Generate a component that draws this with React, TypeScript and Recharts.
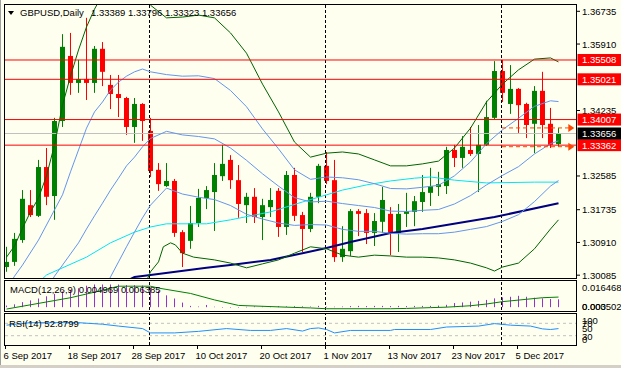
import { ComposedChart, Bar, Line, XAxis, YAxis, ReferenceLine, ReferenceDot } from 'recharts';

const FONT = "'Liberation Sans', Arial, sans-serif";

// daily bars from 6 Sep 2017 to 12 Dec 2017 (index 0..69)
const OPEN = [
  1.3029, 1.3042, 1.3097, 1.3185, 1.3158, 1.3281, 1.3208, 1.3397, 1.3561, 1.3493,
  1.3503, 1.3493, 1.3579, 1.3488, 1.3465, 1.3455, 1.3382, 1.344, 1.3372, 1.3274,
  1.3233, 1.3246, 1.3117, 1.3095, 1.314, 1.3203, 1.3218, 1.3258, 1.3299, 1.3248,
  1.3185, 1.3206, 1.3155, 1.318, 1.3221, 1.313, 1.3261, 1.316, 1.3125, 1.3206,
  1.3284, 1.3248, 1.3054, 1.3069, 1.317, 1.3165, 1.3115, 1.3143, 1.3163, 1.3115,
  1.3163, 1.3168, 1.3193, 1.3216, 1.3231, 1.3233, 1.3324, 1.3304, 1.3324, 1.3314,
  1.3337, 1.3405, 1.3523, 1.344, 1.3478, 1.344, 1.339, 1.3473, 1.339, 1.33389,
];
const HIGH = [
  1.308, 1.3115, 1.3223, 1.3223, 1.3299, 1.3329, 1.3405, 1.3616, 1.3619, 1.3551,
  1.3657, 1.3586, 1.3596, 1.3513, 1.3513, 1.3458, 1.3455, 1.3442, 1.3405, 1.3291,
  1.3291, 1.3251, 1.3122, 1.3183, 1.3226, 1.3233, 1.3291, 1.3337, 1.3311, 1.3286,
  1.3216, 1.3228, 1.3201, 1.3228, 1.3228, 1.3271, 1.3279, 1.3168, 1.3216, 1.3289,
  1.3319, 1.3299, 1.3132, 1.3175, 1.3175, 1.3175, 1.3165, 1.3231, 1.318, 1.3188,
  1.3216, 1.3208, 1.3261, 1.3279, 1.3269, 1.3332, 1.3337, 1.3359, 1.3382, 1.3387,
  1.3448, 1.3548, 1.3551, 1.3538, 1.348, 1.3443, 1.3485, 1.3521, 1.343, 1.33796,
];
const LOW = [
  1.3017, 1.3032, 1.309, 1.3155, 1.3155, 1.3185, 1.3148, 1.3382, 1.3463, 1.3468,
  1.345, 1.3468, 1.3485, 1.3427, 1.3407, 1.3362, 1.3342, 1.3347, 1.3256, 1.3221,
  1.3231, 1.3105, 1.3029, 1.3075, 1.313, 1.3175, 1.312, 1.3246, 1.3226, 1.3153,
  1.314, 1.314, 1.3097, 1.3155, 1.3105, 1.311, 1.3145, 1.3067, 1.3117, 1.319,
  1.3238, 1.3042, 1.3042, 1.3057, 1.3107, 1.3087, 1.3082, 1.3115, 1.3059, 1.3067,
  1.313, 1.3132, 1.3168, 1.3183, 1.3208, 1.3213, 1.3281, 1.3279, 1.3309, 1.3218,
  1.3334, 1.3402, 1.3445, 1.3415, 1.3367, 1.3354, 1.3316, 1.3354, 1.3329, 1.33323,
];
const CLOSE = [
  1.3042, 1.31, 1.3201, 1.316, 1.3281, 1.3206, 1.3397, 1.3584, 1.3493, 1.3503,
  1.3493, 1.3579, 1.3521, 1.3465, 1.3455, 1.3382, 1.344, 1.3397, 1.3271, 1.3238,
  1.3246, 1.3115, 1.3064, 1.314, 1.3203, 1.3223, 1.3261, 1.3289, 1.3248, 1.3188,
  1.3206, 1.3155, 1.3185, 1.3198, 1.313, 1.3261, 1.3158, 1.3125, 1.3206, 1.3284,
  1.3246, 1.3054, 1.3075, 1.317, 1.3163, 1.3115, 1.3145, 1.3198, 1.3115, 1.3163,
  1.317, 1.3195, 1.3218, 1.3233, 1.3238, 1.3324, 1.3304, 1.3332, 1.3314, 1.3337,
  1.3407, 1.3523, 1.3468, 1.3478, 1.3437, 1.3387, 1.3473, 1.3387, 1.3337, 1.33656,
];

// MACD(12,26,9) main values, one per bar
const MACD_MAIN = [
  0.001, 0.0018, 0.0032, 0.0043, 0.0055, 0.0069, 0.0084, 0.0099, 0.011, 0.012,
  0.0136, 0.0144, 0.0144, 0.0144, 0.0144, 0.014, 0.014, 0.0137, 0.0124, 0.0104,
  0.0075, 0.0055, 0.0029, 0.0008, 0.0004, 0.0014, 0.0003, -0.0002, -0.0003, 0.0001,
  0.0002, 0.0005, 0.0004, 0.0004, 0.0006, 0.0005, 0.0006, 0.0005, 0.0004, 0.0008,
  0.0003, 0.0003, 0.0004, 0.0007, 0.0008, 0.0007, 0.0008, 0.0008, 0.0007, 0.0008,
  0.0007, 0.0008, 0.0008, 0.0008, 0.001, 0.0015, 0.0026, 0.003, 0.0035, 0.004,
  0.0046, 0.0056, 0.0062, 0.0066, 0.0072, 0.0066, 0.006, 0.0056, 0.0052, 0.004969,
];

// indicator lines, read as [bar index, value]
const BB_UPPER = [
  [0, 1.3054], [1, 1.3082], [2, 1.3127], [3, 1.3168], [4, 1.3203], [5, 1.3259], [6, 1.3337],
  [7, 1.3437], [8, 1.351], [9, 1.3576], [10, 1.3634], [11, 1.3679], [12, 1.3715], [14, 1.3752],
  [16, 1.374], [17, 1.3712], [18, 1.3689], [20, 1.3657], [22, 1.3659], [24, 1.3664], [26, 1.3657],
  [28, 1.3619], [30, 1.3568], [32, 1.349], [34, 1.342], [36, 1.3344], [38, 1.3306], [40, 1.3316],
  [42, 1.3319], [44, 1.3314], [46, 1.3299], [48, 1.3284], [50, 1.3284], [52, 1.3289], [54, 1.3296],
  [56, 1.3329], [58, 1.3379], [60, 1.3445], [62, 1.349], [64, 1.3526], [66, 1.3553], [68, 1.3556],
  [69, 1.3546],
];
const BB_LOWER = [
  [15, 1.2921], [17, 1.2971], [18, 1.3017], [19, 1.3042], [19.6, 1.308], [20.5, 1.309], [21.1, 1.3085],
  [22, 1.3064], [23.4, 1.3054], [26, 1.3047], [28, 1.3039], [30, 1.3027], [32, 1.3037], [34, 1.3047],
  [36, 1.3064], [38, 1.308], [40, 1.3075], [42, 1.3059], [44, 1.3054], [46, 1.3059], [48, 1.3057],
  [50, 1.3054], [52, 1.3054], [54, 1.3052], [56, 1.3047], [58, 1.3039], [60, 1.3027], [61, 1.3019],
  [62, 1.3029], [64, 1.3039], [66, 1.3075], [68, 1.3125], [69, 1.3148],
];
const INNER_UPPER = [
  [0, 1.2971], [1, 1.3006], [2, 1.3034], [4, 1.3097], [6, 1.3173], [7, 1.3211], [8, 1.3269],
  [9, 1.3324], [10, 1.3379], [11, 1.342], [12, 1.3445], [13, 1.3475], [14, 1.3495], [15, 1.351],
  [16, 1.3521], [17, 1.3528], [18, 1.3521], [20, 1.3514], [22, 1.351], [24, 1.3511], [26, 1.3504],
  [28, 1.3474], [30, 1.3433], [32, 1.3377], [34, 1.3327], [36, 1.3274], [38, 1.325], [40, 1.3256],
  [42, 1.3254], [44, 1.3249], [46, 1.3239], [48, 1.3227], [50, 1.3226], [52, 1.323], [54, 1.3235],
  [56, 1.3259], [58, 1.3294], [60, 1.334], [62, 1.3375], [64, 1.3404], [66, 1.3434], [68, 1.3448],
  [69, 1.3446],
];
const MIDDLE = [
  [5, 1.2971], [6, 1.3006], [7, 1.3034], [8, 1.3062], [9, 1.309], [10, 1.3125], [11, 1.3158],
  [12, 1.319], [13, 1.3223], [14, 1.3253], [15, 1.3284], [16, 1.3306], [17, 1.3332], [18, 1.3353],
  [20, 1.3371], [22, 1.3362], [24, 1.3358], [26, 1.3352], [28, 1.3329], [30, 1.3298], [32, 1.3264],
  [34, 1.3233], [36, 1.3204], [38, 1.3193], [40, 1.3195], [42, 1.3189], [44, 1.3184], [46, 1.3179],
  [48, 1.317], [50, 1.3169], [52, 1.3172], [54, 1.3174], [56, 1.3188], [58, 1.3209], [60, 1.3236],
  [62, 1.326], [64, 1.3282], [66, 1.3314], [68, 1.334], [69, 1.3347],
];
const INNER_LOWER = [
  [12, 1.2966], [13, 1.3004], [14, 1.3042], [15, 1.308], [16, 1.3117], [17, 1.3153], [18, 1.3185],
  [20, 1.3228], [22, 1.3213], [24, 1.3205], [26, 1.3199], [28, 1.3184], [30, 1.3162], [32, 1.315],
  [34, 1.314], [36, 1.3134], [38, 1.3136], [40, 1.3135], [42, 1.3124], [44, 1.3119], [46, 1.3119],
  [48, 1.3114], [50, 1.3112], [52, 1.3113], [54, 1.3113], [56, 1.3117], [58, 1.3124], [60, 1.3131],
  [62, 1.3144], [64, 1.3161], [66, 1.3194], [68, 1.3233], [69, 1.3247],
];
const MA_AQUA = [
  [3, 1.2971], [5, 1.3009], [10, 1.3054], [13, 1.309], [16, 1.3117], [18, 1.313], [20, 1.3138],
  [25, 1.3138], [28, 1.3148], [33, 1.3168], [37, 1.3193], [40, 1.3211], [42, 1.3223], [45, 1.3236],
  [48, 1.3246], [51, 1.3253], [53, 1.3256], [56, 1.3248], [60, 1.3241], [66, 1.3243], [69, 1.3243],
];
const MA_NAVY = [
  [14, 1.2984], [16, 1.3004], [18, 1.3009], [25, 1.3027], [28, 1.3034], [33, 1.3047], [37, 1.3064],
  [40, 1.3077], [43, 1.3092], [48, 1.3115], [50, 1.312], [52, 1.3125], [61, 1.3155], [69, 1.319],
];
const MACD_SIGNAL = [
  [0, -0.0012], [3, 0.0015], [8, 0.006], [12, 0.0107], [14, 0.0133], [18, 0.0133], [19, 0.0121],
  [23, 0.0087], [26, 0.0046], [29, 0.0011], [35, 0], [38, -0.0005], [40, -0.001], [48, -0.001],
  [50, -0.0008], [53, -0.0003], [55, 0], [58, 0.0009], [60, 0.002], [62, 0.0035], [65, 0.005],
  [67, 0.006], [69, 0.0064],
];
const RSI = [
  [0, 64], [3, 72], [9, 72], [12, 67], [14, 61], [17, 53], [18, 39], [21, 39], [24, 44], [27.5, 53],
  [30.5, 47], [33, 47], [35, 53], [37, 45], [38, 53], [39, 55], [40, 50], [41, 39], [43, 47], [48, 47],
  [48.5, 50], [53, 50], [55, 58], [59, 61], [61, 69], [63, 64], [65.5, 61], [67, 52], [68, 50], [69, 52.88],
];

const TICK_BARS = [0, 8, 16, 24, 32, 40, 48, 56, 64];
const TICK_LABELS = [
  '6 Sep 2017', '18 Sep 2017', '28 Sep 2017', '10 Oct 2017', '20 Oct 2017',
  '1 Nov 2017', '13 Nov 2017', '23 Nov 2017', '5 Dec 2017',
];
const PRICE_TICKS = [1.36735, 1.3591, 1.34235, 1.32585, 1.31735, 1.3091, 1.30085];
const LEVELS = [1.35508, 1.35021, 1.34007, 1.33362];
const BID = 1.33656;
const DAY_HIGH = 1.33796;
const DAY_LOW = 1.33323;
const MONTH_STARTS = [17.875, 39.875, 61.875];

const X_DOMAIN = [-0.1875, 71.1875];
const PRICE_DOMAIN = [1.30014, 1.36894];

const candles = OPEN.map((o, i) => ({ i, o, h: HIGH[i], l: LOW[i], c: CLOSE[i] }));
const macdData = MACD_MAIN.map((v, i) => ({ i, v }));
const pts = (a: number[][]) => a.map(([i, v]) => ({ i, v }));

function Candle(props: any) {
  const { x, y, width, height, payload } = props;
  if (height == null || isNaN(y)) return null;
  const up = payload.c >= payload.o;
  const color = up ? '#008000' : '#ff0000';
  const top0 = Math.min(y, y + height);
  const bot0 = Math.max(y, y + height);
  const span = payload.h - payload.l || 1e-9;
  const py = (v: number) => top0 + ((payload.h - v) / span) * (bot0 - top0);
  const cx = Math.floor(x + (width || 0) / 2) + 0.5;
  const top = py(Math.max(payload.o, payload.c));
  const bot = py(Math.min(payload.o, payload.c));
  return (
    <g>
      <line x1={cx} x2={cx} y1={top0} y2={bot0} stroke={color} strokeWidth={1} />
      <rect x={cx - 2.5} y={top} width={5} height={Math.max(1, bot - top)} fill={color} />
    </g>
  );
}

function PriceTick(props: any) {
  const { x, y, payload } = props;
  const v = payload.value;
  const label = v.toFixed(5);
  if (LEVELS.includes(v) || v === BID) {
    return (
      <g>
        <rect x={x + 1.5} y={y - 6} width={44} height={12} fill={v === BID ? '#000' : '#ff0000'} />
        <text x={x + 6} y={y + 3.5} fill="#fff" fontSize={9.5} fontFamily={FONT}>{label}</text>
      </g>
    );
  }
  return (
    <g>
      <line x1={x} x2={x + 4} y1={y} y2={y} stroke="#000" />
      <text x={x + 6} y={y + 3.5} fill="#000" fontSize={9.5} fontFamily={FONT}>{label}</text>
    </g>
  );
}

function DateTick(props: any) {
  const { x, y, payload } = props;
  const k = TICK_BARS.indexOf(payload.value);
  return (
    <g>
      <line x1={x - 1} x2={x - 1} y1={y} y2={y + 4} stroke="#000" />
      <text x={x - 3} y={y + 14} fill="#000" fontSize={9.5} fontFamily={FONT}>{TICK_LABELS[k]}</text>
    </g>
  );
}

function Arrow(props: any) {
  const { cx, cy } = props;
  return <path d={`M${cx - 3},${cy - 4}L${cx + 3},${cy}L${cx - 3},${cy + 4}Z`} fill="#ff4500" />;
}

function HistBar(props: any) {
  const { x, y, width, height, fill } = props;
  if (height == null || isNaN(y)) return null;
  const cx = Math.floor(x + (width || 0) / 2);
  const top = Math.min(y, y + height);
  return <rect x={cx} y={top} width={1} height={Math.max(0.5, Math.abs(height))} fill={fill} />;
}

const line = (key: string, data: number[][], color: string, width = 1) => (
  <Line
    key={key}
    data={pts(data)}
    dataKey="v"
    type="linear"
    stroke={color}
    strokeWidth={width}
    dot={false}
    isAnimationActive={false}
  />
);

const separators = MONTH_STARTS.map((m) => (
  <ReferenceLine key={m} x={m} stroke="#000" strokeDasharray="3 2" />
));

const txt = (left: number, top: number, s: string, extra: any = {}) => (
  <div
    style={{
      position: 'absolute', left, top, fontFamily: FONT, fontSize: 9.5, lineHeight: '12px',
      color: '#000', whiteSpace: 'nowrap', ...extra,
    }}
  >
    {s}
  </div>
);

const frame = (top: number, height: number) => (
  <div
    style={{
      position: 'absolute', left: 4, top, width: 573, height, boxSizing: 'border-box',
      border: '1px solid #000', pointerEvents: 'none',
    }}
  />
);

export default function App() {
  return (
    <div
      style={{
        position: 'absolute', left: 0, top: 0, width: 621, height: 368, background: '#fffff0',
        overflow: 'hidden',
      }}
    >
      {/* price pane */}
      <div style={{ position: 'absolute', left: 0, top: 0 }}>
        <ComposedChart width={621} height={283} data={candles} margin={{ top: 5, right: 0, bottom: 5, left: 5 }}>
          <XAxis type="number" dataKey="i" domain={X_DOMAIN} allowDataOverflow hide />
          <YAxis
            orientation="right"
            width={45}
            domain={PRICE_DOMAIN}
            allowDataOverflow
            ticks={[...PRICE_TICKS, ...LEVELS, BID]}
            interval={0}
            axisLine={false}
            tickLine={false}
            tickSize={0}
            tickMargin={0}
            tick={PriceTick}
          />
          <ReferenceLine y={BID} stroke="#c0c0c0" />
          {separators}
          <Bar dataKey={(d: any) => [d.l, d.h]} barSize={5} shape={Candle} isAnimationActive={false} />
          {line('navy', MA_NAVY, '#000080', 2)}
          {line('aqua', MA_AQUA, '#00e5f5')}
          {line('iu', INNER_UPPER, '#6495ed')}
          {line('mid', MIDDLE, '#6495ed')}
          {line('il', INNER_LOWER, '#6495ed')}
          {line('bu', BB_UPPER, '#006400')}
          {line('bl', BB_LOWER, '#006400')}
          {LEVELS.map((v) => (
            <ReferenceLine key={v} y={v} stroke="#ff0000" />
          ))}
          <ReferenceLine
            segment={[{ x: 61.94, y: DAY_HIGH }, { x: 70.3, y: DAY_HIGH }]}
            stroke="#ff4500"
            strokeDasharray="4 3"
          />
          <ReferenceLine
            segment={[{ x: 61.94, y: DAY_LOW }, { x: 70.3, y: DAY_LOW }]}
            stroke="#ff4500"
            strokeDasharray="4 3"
          />
          <ReferenceDot x={70.6} y={DAY_HIGH} shape={Arrow} />
          <ReferenceDot x={70.6} y={DAY_LOW} shape={Arrow} />
        </ComposedChart>
      </div>

      {/* MACD pane */}
      <div style={{ position: 'absolute', left: 0, top: 281 }}>
        <ComposedChart width={621} height={29} data={macdData} margin={{ top: 0, right: 45, bottom: 0, left: 5 }}>
          <XAxis type="number" dataKey="i" domain={X_DOMAIN} allowDataOverflow hide />
          <YAxis domain={[-0.0018, 0.0166]} allowDataOverflow hide />
          {separators}
          <Bar dataKey="v" barSize={2} fill="#9932cc" shape={HistBar} isAnimationActive={false} />
          {line('sig', MACD_SIGNAL, '#008000')}
        </ComposedChart>
      </div>

      {/* RSI pane + dates */}
      <div style={{ position: 'absolute', left: 0, top: 314 }}>
        <ComposedChart width={621} height={53} data={pts(RSI)} margin={{ top: 0, right: 45, bottom: 0, left: 5 }}>
          <XAxis
            type="number"
            dataKey="i"
            domain={X_DOMAIN}
            allowDataOverflow
            ticks={TICK_BARS}
            interval={0}
            height={22}
            axisLine={false}
            tickLine={false}
            tickSize={0}
            tickMargin={0}
            tick={DateTick}
          />
          <YAxis domain={[0, 100]} allowDataOverflow hide />
          <ReferenceLine y={70} stroke="#c0c0c0" strokeDasharray="3 3" />
          <ReferenceLine y={30} stroke="#c0c0c0" strokeDasharray="3 3" />
          {separators}
          <Line dataKey="v" type="linear" stroke="#1e90ff" dot={false} isAnimationActive={false} />
        </ComposedChart>
      </div>

      {frame(4, 275)}
      {frame(280, 32)}
      {frame(313, 33)}

      <div
        style={{
          position: 'absolute', left: 8, top: 11, width: 0, height: 0,
          borderLeft: '3.5px solid transparent', borderRight: '3.5px solid transparent',
          borderTop: '4px solid #000',
        }}
      />
      {txt(20, 7, 'GBPUSD,Daily')}
      {txt(91, 7, '1.33389 1.33796 1.33323 1.33656')}
      {txt(10, 284, 'MACD(12,26,9) 0.004969 0.006385')}
      {txt(9, 318, 'RSI(14) 52.8799')}

      {txt(582, 282, '0.016468')}
      {txt(582, 301, '0.003502')}
      {txt(582, 301, '0.000')}
      {txt(582, 315, '100')}
      {txt(582, 318, '70')}
      {txt(582, 323, '50')}
      {txt(582, 331, '30')}
      {txt(582, 334, '0')}

      <div style={{ position: 'absolute', left: 0, top: 0, width: 1, height: 368, background: '#a0a0a0' }} />
      <div style={{ position: 'absolute', left: 0, top: 365, width: 621, height: 3, background: '#d4d0c8' }} />
    </div>
  );
}
